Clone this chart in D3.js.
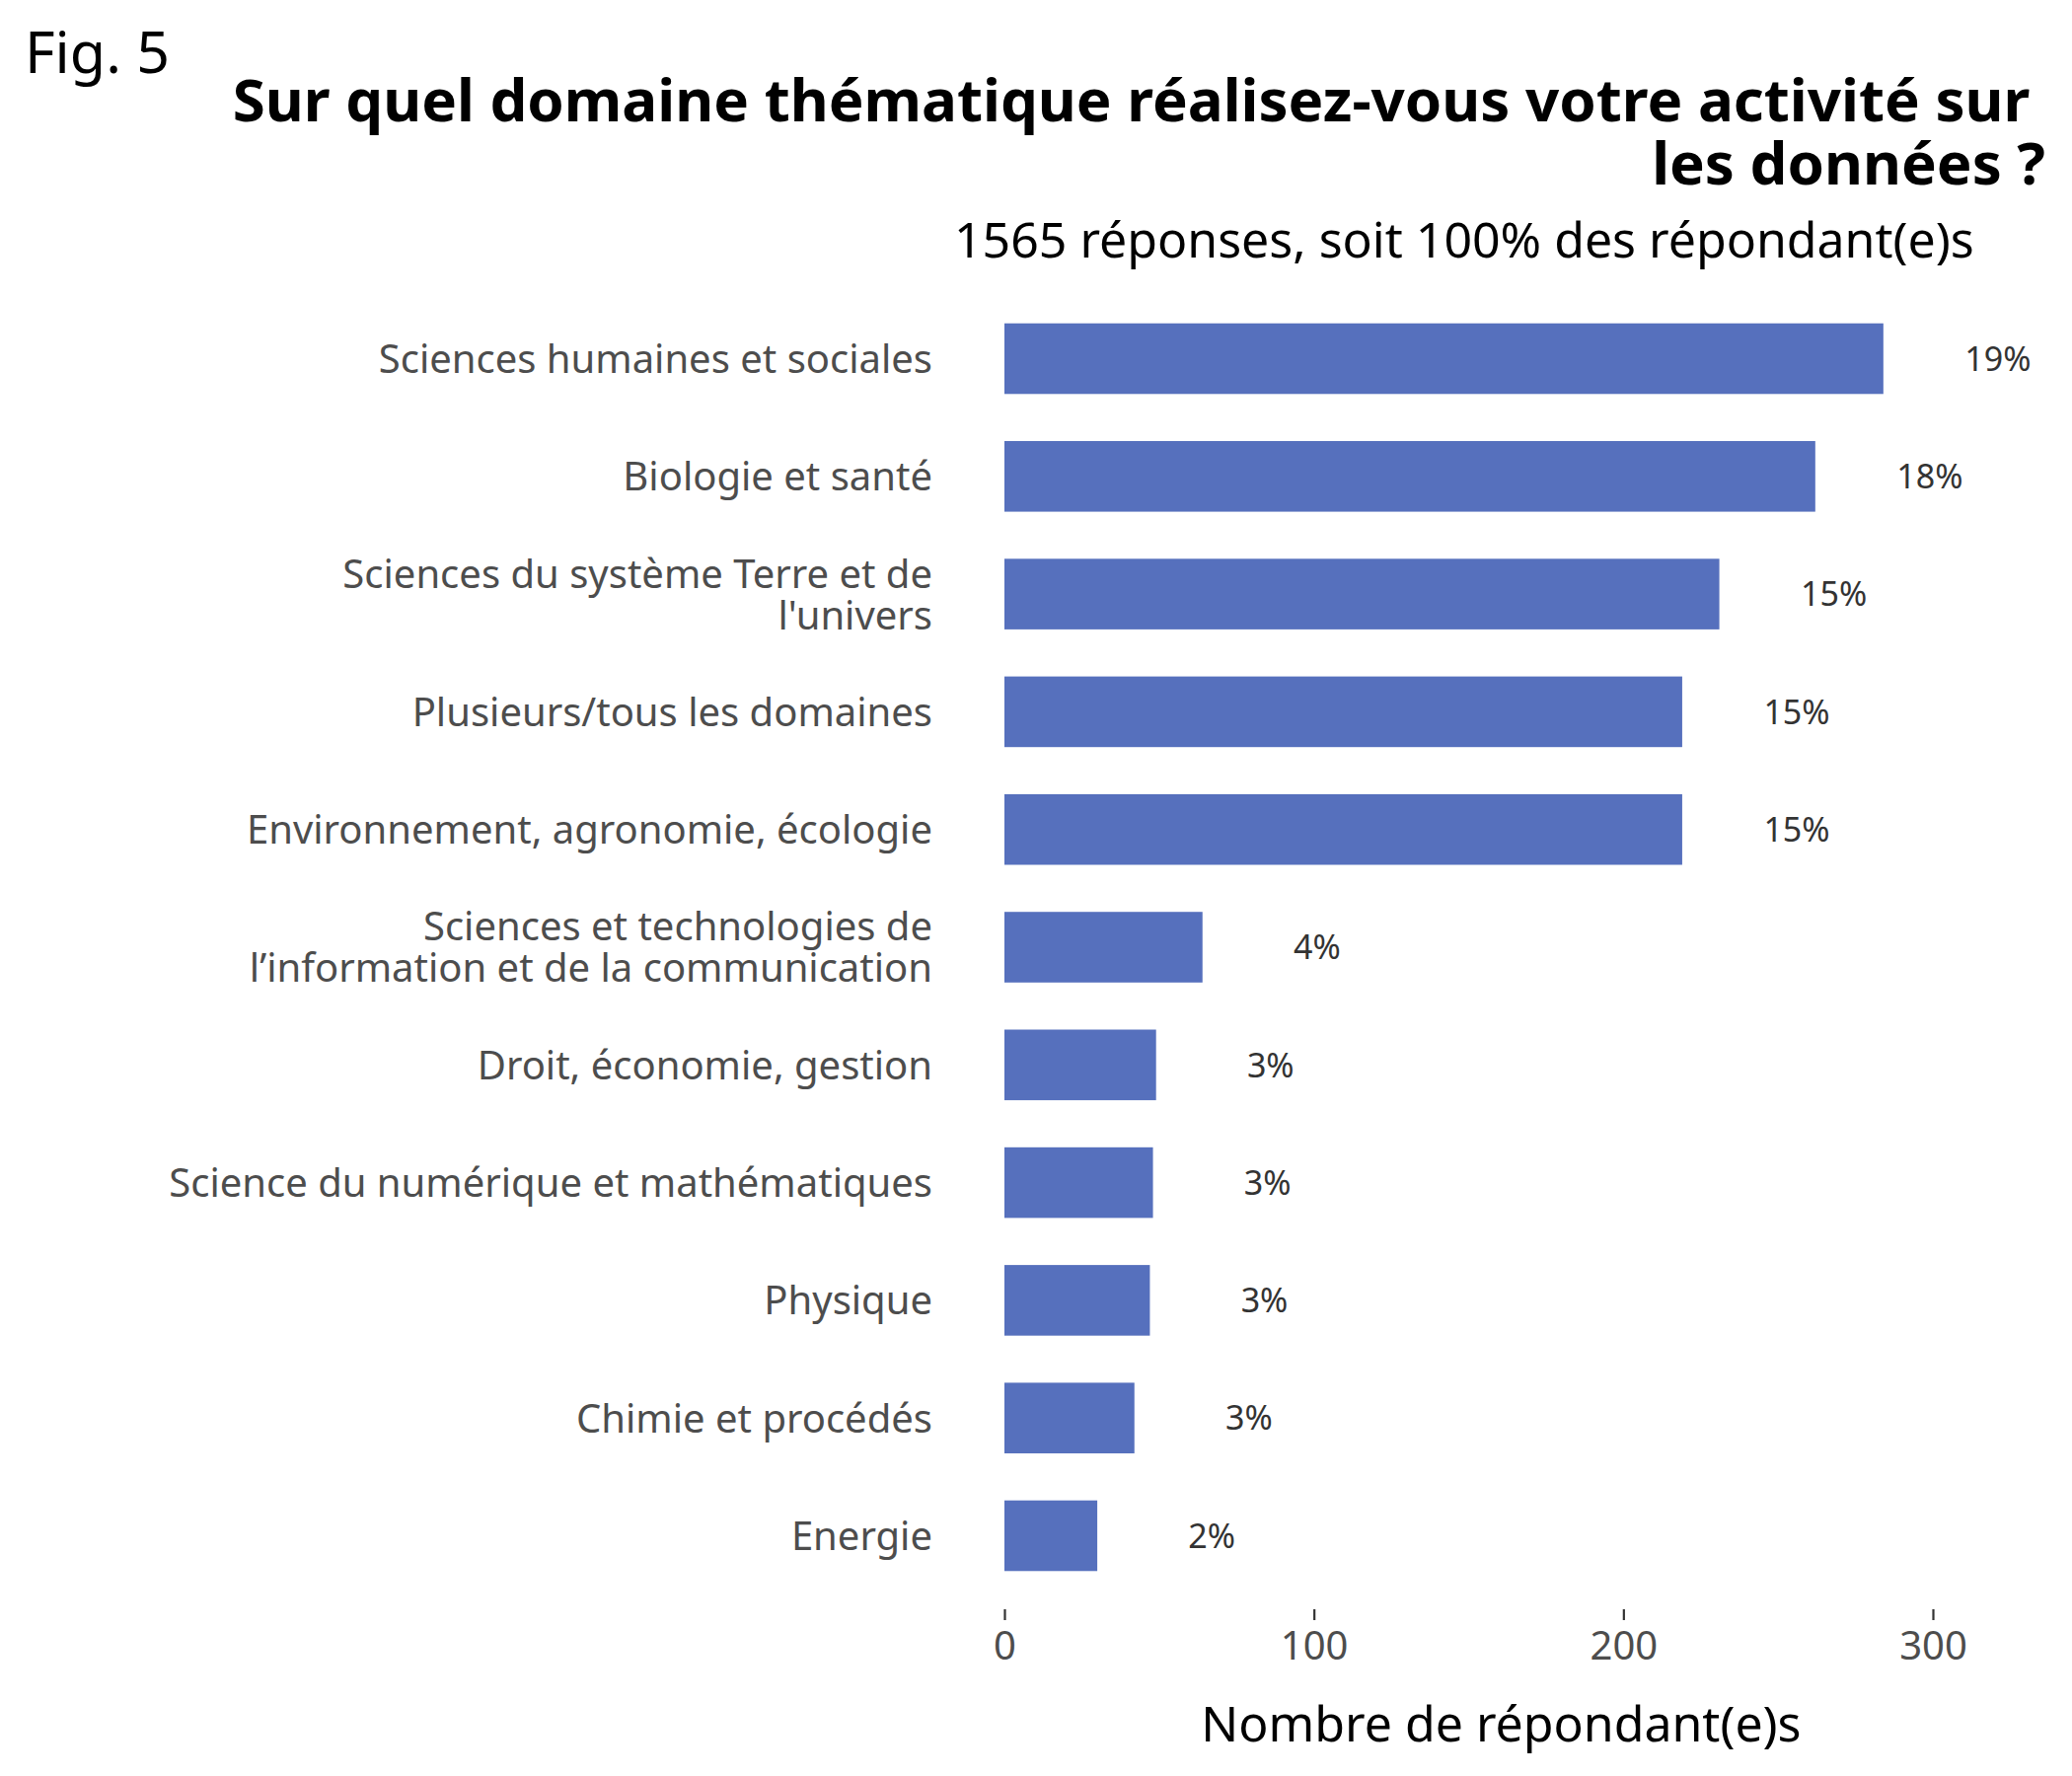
<!DOCTYPE html>
<html>
<head>
<meta charset="utf-8">
<script src="https://cdn.jsdelivr.net/npm/d3@7"></script>
<style>
  body { margin: 0; background: #fff; }
  text { font-family: "Noto Sans", "Open Sans", sans-serif; }
</style>
</head>
<body>
<div class="chart"></div>
<script>
// Data
const categories = [
    'Sciences humaines et sociales',
    'Biologie et santé',
    'Sciences du système Terre et de\nl\'univers',
    'Plusieurs/tous les domaines',
    'Environnement, agronomie, écologie',
    'Sciences et technologies de\nl’information et de la communication',
    'Droit, économie, gestion',
    'Science du numérique et mathématiques',
    'Physique',
    'Chimie et procédés',
    'Energie'
];
const counts = [284, 262, 231, 219, 219, 64, 49, 48, 47, 42, 30];
const percentLabels = ['19%', '18%', '15%', '15%', '15%', '4%', '3%', '3%', '3%', '3%', '2%'];
const xTicks = [0, 100, 200, 300];

const titleLines = ['Sur quel domaine thématique réalisez-vous votre activité sur ', 'les données ?'];
const subtitle = '1565 réponses, soit 100% des répondant(e)s';
const xTitle = 'Nombre de répondant(e)s';

const drawChart = (selector, outerWidth, outerHeight) => {
    const svg = d3.select(`.${selector}`).append('svg')
        .attr('width', outerWidth)
        .attr('height', outerHeight);

    const x = d3.scaleLinear()
        .domain([0, 300])
        .range([1018, 1959]);

    const y = d3.scaleBand()
        .domain(categories)
        .range([280, 1640])
        .padding(0.4);

    // figure tag and titles
    svg.append('text')
        .attr('x', 25).attr('y', 74)
        .attr('font-size', 59)
        .attr('fill', '#000')
        .text('Fig. 5');

    svg.append('text')
        .attr('text-anchor', 'end')
        .attr('font-size', 60)
        .attr('font-weight', 'bold')
        .attr('fill', '#000')
        .selectAll('tspan')
        .data(titleLines)
        .join('tspan')
        .attr('x', 2073)
        .attr('y', (d, i) => 123 + i * 64)
        .attr('xml:space', 'preserve')
        .text(d => d);

    svg.append('text')
        .attr('x', 967).attr('y', 261)
        .attr('font-size', 50)
        .attr('fill', '#000')
        .text(subtitle);

    // bars
    svg.append('g')
        .selectAll('rect')
        .data(counts)
        .join('rect')
        .attr('x', x(0))
        .attr('y', (d, i) => y(categories[i]))
        .attr('width', d => x(d) - x(0))
        .attr('height', y.bandwidth())
        .attr('fill', '#5670bd');

    // percentage labels
    svg.append('g')
        .selectAll('text')
        .data(counts)
        .join('text')
        .attr('x', d => x(d + 37))
        .attr('y', (d, i) => y(categories[i]) + y.bandwidth() / 2)
        .attr('dy', '0.36em')
        .attr('text-anchor', 'middle')
        .attr('font-size', 34)
        .attr('fill', '#333')
        .text((d, i) => percentLabels[i]);

    // category labels
    const catG = svg.append('g');
    categories.forEach((c, i) => {
        const lines = c.split('\n');
        const cy = y(c) + y.bandwidth() / 2;
        const t = catG.append('text')
            .attr('text-anchor', 'end')
            .attr('font-size', 40)
            .attr('fill', '#4d4d4d');
        lines.forEach((l, j) => {
            t.append('tspan')
                .attr('x', 945)
                .attr('y', cy + (j - (lines.length - 1) / 2) * 42)
                .attr('dy', '0.36em')
                .text(l);
        });
    });

    // x axis
    const xAxis = svg.append('g')
        .attr('transform', 'translate(0,1631)')
        .call(d3.axisBottom(x).tickValues(xTicks).tickSize(11).tickPadding(12));
    xAxis.select('.domain').remove();
    xAxis.selectAll('line').attr('stroke', '#333').attr('stroke-width', 2.2);
    xAxis.selectAll('text')
        .attr('font-size', 40)
        .attr('fill', '#4d4d4d')
        .style('font-family', '"Noto Sans", "Open Sans", sans-serif');

    svg.append('text')
        .attr('x', x(160.5)).attr('y', 1765)
        .attr('text-anchor', 'middle')
        .attr('font-size', 50)
        .attr('fill', '#000')
        .text(xTitle);
};

drawChart('chart', 2100, 1800);
</script>
</body>
</html>
